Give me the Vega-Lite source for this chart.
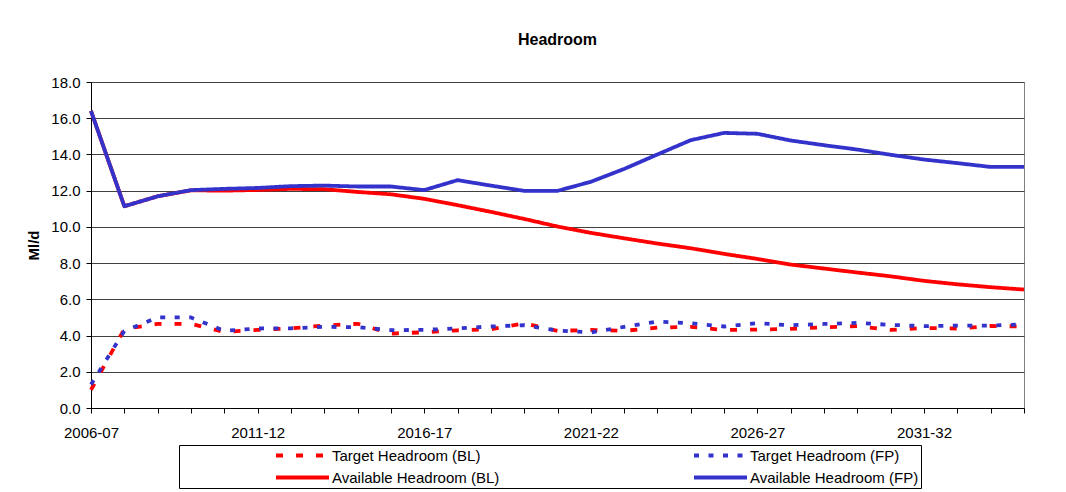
{
  "$schema": "https://vega.github.io/schema/vega-lite/v6.json",
  "width": 933,
  "height": 326,
  "autosize": "none",
  "padding": {"left": 91, "top": 82, "right": 42, "bottom": 84},
  "background": "white",
  "title": {"text": "Headroom", "font": "Liberation Sans", "fontSize": 16, "fontWeight": "bold", "color": "black", "anchor": "middle", "frame": "group", "baseline": "alphabetic", "offset": 14},
  "config": {
    "view": {"stroke": "#808080", "strokeWidth": 1},
    "font": "Liberation Sans"
  },
  "data": {
    "values": [
      {"year": "2006-07", "series": "Target Headroom (BL)", "value": 1.0},
      {"year": "2007-08", "series": "Target Headroom (BL)", "value": 4.36},
      {"year": "2008-09", "series": "Target Headroom (BL)", "value": 4.65},
      {"year": "2009-10", "series": "Target Headroom (BL)", "value": 4.65},
      {"year": "2010-11", "series": "Target Headroom (BL)", "value": 4.2},
      {"year": "2011-12", "series": "Target Headroom (BL)", "value": 4.31},
      {"year": "2012-13", "series": "Target Headroom (BL)", "value": 4.4},
      {"year": "2013-14", "series": "Target Headroom (BL)", "value": 4.55},
      {"year": "2014-15", "series": "Target Headroom (BL)", "value": 4.65},
      {"year": "2015-16", "series": "Target Headroom (BL)", "value": 4.11},
      {"year": "2016-17", "series": "Target Headroom (BL)", "value": 4.18},
      {"year": "2017-18", "series": "Target Headroom (BL)", "value": 4.29},
      {"year": "2018-19", "series": "Target Headroom (BL)", "value": 4.35},
      {"year": "2019-20", "series": "Target Headroom (BL)", "value": 4.68},
      {"year": "2020-21", "series": "Target Headroom (BL)", "value": 4.26},
      {"year": "2021-22", "series": "Target Headroom (BL)", "value": 4.31},
      {"year": "2022-23", "series": "Target Headroom (BL)", "value": 4.26},
      {"year": "2023-24", "series": "Target Headroom (BL)", "value": 4.44},
      {"year": "2024-25", "series": "Target Headroom (BL)", "value": 4.48},
      {"year": "2025-26", "series": "Target Headroom (BL)", "value": 4.31},
      {"year": "2026-27", "series": "Target Headroom (BL)", "value": 4.33},
      {"year": "2027-28", "series": "Target Headroom (BL)", "value": 4.37},
      {"year": "2028-29", "series": "Target Headroom (BL)", "value": 4.46},
      {"year": "2029-30", "series": "Target Headroom (BL)", "value": 4.52},
      {"year": "2030-31", "series": "Target Headroom (BL)", "value": 4.31},
      {"year": "2031-32", "series": "Target Headroom (BL)", "value": 4.42},
      {"year": "2032-33", "series": "Target Headroom (BL)", "value": 4.39},
      {"year": "2033-34", "series": "Target Headroom (BL)", "value": 4.53},
      {"year": "2034-35", "series": "Target Headroom (BL)", "value": 4.5},
      {"year": "2006-07", "series": "Target Headroom (FP)", "value": 1.3},
      {"year": "2007-08", "series": "Target Headroom (FP)", "value": 4.25},
      {"year": "2008-09", "series": "Target Headroom (FP)", "value": 5.0},
      {"year": "2009-10", "series": "Target Headroom (FP)", "value": 5.0},
      {"year": "2010-11", "series": "Target Headroom (FP)", "value": 4.26},
      {"year": "2011-12", "series": "Target Headroom (FP)", "value": 4.39},
      {"year": "2012-13", "series": "Target Headroom (FP)", "value": 4.4},
      {"year": "2013-14", "series": "Target Headroom (FP)", "value": 4.48},
      {"year": "2014-15", "series": "Target Headroom (FP)", "value": 4.46},
      {"year": "2015-16", "series": "Target Headroom (FP)", "value": 4.3},
      {"year": "2016-17", "series": "Target Headroom (FP)", "value": 4.31},
      {"year": "2017-18", "series": "Target Headroom (FP)", "value": 4.4},
      {"year": "2018-19", "series": "Target Headroom (FP)", "value": 4.5},
      {"year": "2019-20", "series": "Target Headroom (FP)", "value": 4.57},
      {"year": "2020-21", "series": "Target Headroom (FP)", "value": 4.28},
      {"year": "2021-22", "series": "Target Headroom (FP)", "value": 4.17},
      {"year": "2022-23", "series": "Target Headroom (FP)", "value": 4.48},
      {"year": "2023-24", "series": "Target Headroom (FP)", "value": 4.77},
      {"year": "2024-25", "series": "Target Headroom (FP)", "value": 4.68},
      {"year": "2025-26", "series": "Target Headroom (FP)", "value": 4.5},
      {"year": "2026-27", "series": "Target Headroom (FP)", "value": 4.68},
      {"year": "2027-28", "series": "Target Headroom (FP)", "value": 4.57},
      {"year": "2028-29", "series": "Target Headroom (FP)", "value": 4.64},
      {"year": "2029-30", "series": "Target Headroom (FP)", "value": 4.7},
      {"year": "2030-31", "series": "Target Headroom (FP)", "value": 4.59},
      {"year": "2031-32", "series": "Target Headroom (FP)", "value": 4.52},
      {"year": "2032-33", "series": "Target Headroom (FP)", "value": 4.55},
      {"year": "2033-34", "series": "Target Headroom (FP)", "value": 4.55},
      {"year": "2034-35", "series": "Target Headroom (FP)", "value": 4.62},
      {"year": "2006-07", "series": "Available Headroom  (BL)", "value": 16.4},
      {"year": "2007-08", "series": "Available Headroom  (BL)", "value": 11.14},
      {"year": "2008-09", "series": "Available Headroom  (BL)", "value": 11.69},
      {"year": "2009-10", "series": "Available Headroom  (BL)", "value": 12.02},
      {"year": "2010-11", "series": "Available Headroom  (BL)", "value": 12.0},
      {"year": "2011-12", "series": "Available Headroom  (BL)", "value": 12.04},
      {"year": "2012-13", "series": "Available Headroom  (BL)", "value": 12.1},
      {"year": "2013-14", "series": "Available Headroom  (BL)", "value": 12.08},
      {"year": "2014-15", "series": "Available Headroom  (BL)", "value": 11.93},
      {"year": "2015-16", "series": "Available Headroom  (BL)", "value": 11.8},
      {"year": "2016-17", "series": "Available Headroom  (BL)", "value": 11.55},
      {"year": "2017-18", "series": "Available Headroom  (BL)", "value": 11.2},
      {"year": "2018-19", "series": "Available Headroom  (BL)", "value": 10.83},
      {"year": "2019-20", "series": "Available Headroom  (BL)", "value": 10.44},
      {"year": "2020-21", "series": "Available Headroom  (BL)", "value": 10.02},
      {"year": "2021-22", "series": "Available Headroom  (BL)", "value": 9.67},
      {"year": "2022-23", "series": "Available Headroom  (BL)", "value": 9.37},
      {"year": "2023-24", "series": "Available Headroom  (BL)", "value": 9.08},
      {"year": "2024-25", "series": "Available Headroom  (BL)", "value": 8.82},
      {"year": "2025-26", "series": "Available Headroom  (BL)", "value": 8.51},
      {"year": "2026-27", "series": "Available Headroom  (BL)", "value": 8.23},
      {"year": "2027-28", "series": "Available Headroom  (BL)", "value": 7.92},
      {"year": "2028-29", "series": "Available Headroom  (BL)", "value": 7.7},
      {"year": "2029-30", "series": "Available Headroom  (BL)", "value": 7.48},
      {"year": "2030-31", "series": "Available Headroom  (BL)", "value": 7.27},
      {"year": "2031-32", "series": "Available Headroom  (BL)", "value": 7.02},
      {"year": "2032-33", "series": "Available Headroom  (BL)", "value": 6.83},
      {"year": "2033-34", "series": "Available Headroom  (BL)", "value": 6.67},
      {"year": "2034-35", "series": "Available Headroom  (BL)", "value": 6.54},
      {"year": "2006-07", "series": "Available Headroom (FP)", "value": 16.4},
      {"year": "2007-08", "series": "Available Headroom (FP)", "value": 11.14},
      {"year": "2008-09", "series": "Available Headroom (FP)", "value": 11.69},
      {"year": "2009-10", "series": "Available Headroom (FP)", "value": 12.03},
      {"year": "2010-11", "series": "Available Headroom (FP)", "value": 12.1},
      {"year": "2011-12", "series": "Available Headroom (FP)", "value": 12.15},
      {"year": "2012-13", "series": "Available Headroom (FP)", "value": 12.25},
      {"year": "2013-14", "series": "Available Headroom (FP)", "value": 12.28},
      {"year": "2014-15", "series": "Available Headroom (FP)", "value": 12.23},
      {"year": "2015-16", "series": "Available Headroom (FP)", "value": 12.23},
      {"year": "2016-17", "series": "Available Headroom (FP)", "value": 12.03},
      {"year": "2017-18", "series": "Available Headroom (FP)", "value": 12.58},
      {"year": "2018-19", "series": "Available Headroom (FP)", "value": 12.28},
      {"year": "2019-20", "series": "Available Headroom (FP)", "value": 11.99},
      {"year": "2020-21", "series": "Available Headroom (FP)", "value": 11.99},
      {"year": "2021-22", "series": "Available Headroom (FP)", "value": 12.49},
      {"year": "2022-23", "series": "Available Headroom (FP)", "value": 13.2},
      {"year": "2023-24", "series": "Available Headroom (FP)", "value": 14.0},
      {"year": "2024-25", "series": "Available Headroom (FP)", "value": 14.79},
      {"year": "2025-26", "series": "Available Headroom (FP)", "value": 15.19},
      {"year": "2026-27", "series": "Available Headroom (FP)", "value": 15.14},
      {"year": "2027-28", "series": "Available Headroom (FP)", "value": 14.77},
      {"year": "2028-29", "series": "Available Headroom (FP)", "value": 14.51},
      {"year": "2029-30", "series": "Available Headroom (FP)", "value": 14.27},
      {"year": "2030-31", "series": "Available Headroom (FP)", "value": 13.98},
      {"year": "2031-32", "series": "Available Headroom (FP)", "value": 13.72},
      {"year": "2032-33", "series": "Available Headroom (FP)", "value": 13.52},
      {"year": "2033-34", "series": "Available Headroom (FP)", "value": 13.31},
      {"year": "2034-35", "series": "Available Headroom (FP)", "value": 13.31}
    ]
  },
  "mark": {"type": "line", "strokeCap": "butt", "strokeJoin": "round", "strokeWidth": 3.8},
  "encoding": {
    "x": {
      "field": "year",
      "type": "ordinal",
      "sort": null,
      "scale": {"type": "point", "padding": 0},
      "axis": {
        "title": null,
        "labelAngle": 0,
        "labelFontSize": 15,
        "labelColor": "black",
        "labelPadding": 12,
        "tickSize": 5,
        "tickColor": "black",
        "domainColor": "black",
        "grid": false,
        "labelExpr": "indexof(['2006-07','2011-12','2016-17','2021-22','2026-27','2031-32'], datum.value) >= 0 ? datum.value : ''"
      }
    },
    "y": {
      "field": "value",
      "type": "quantitative",
      "scale": {"domain": [0, 18], "nice": false},
      "axis": {
        "title": "Ml/d",
        "titleFontSize": 15,
        "titleFontWeight": "bold",
        "titleColor": "black",
        "titleX": -58,
        "titleY": 163,
        "titleBaseline": "middle",
        "values": [0, 2, 4, 6, 8, 10, 12, 14, 16, 18],
        "format": ".1f",
        "labelFontSize": 15,
        "labelColor": "black",
        "labelPadding": 6,
        "tickSize": 5,
        "tickColor": "black",
        "domainColor": "black",
        "gridColor": "#404040",
        "gridOpacity": 1
      }
    },
    "color": {
      "field": "series",
      "type": "nominal",
      "sort": null,
      "scale": {
        "domain": ["Target Headroom (BL)", "Target Headroom (FP)", "Available Headroom  (BL)", "Available Headroom (FP)"],
        "range": ["#FF0000", "#3333CC", "#FF0000", "#3333CC"]
      },
      "legend": {
        "title": null,
        "orient": "none",
        "direction": "horizontal",
        "legendX": 88,
        "legendY": 363,
        "columns": 2,
        "columnPadding": 95,
        "rowPadding": 5,
        "padding": 2,
        "clipHeight": 17,
        "strokeColor": "black",
        "fillColor": "white",
        "symbolType": "stroke",
        "symbolSize": 2809,
        "symbolStrokeWidth": 3.8,
        "symbolOffset": 93,
        "labelOffset": 1,
        "labelLimit": 400,
        "labelFontSize": 15,
        "labelColor": "black"
      }
    },
    "strokeDash": {
      "field": "series",
      "type": "nominal",
      "sort": null,
      "scale": {
        "domain": ["Target Headroom (BL)", "Target Headroom (FP)", "Available Headroom  (BL)", "Available Headroom (FP)"],
        "range": [[7, 13], [5, 9.5], [1, 0], [1, 0]]
      }
    }
  }
}
